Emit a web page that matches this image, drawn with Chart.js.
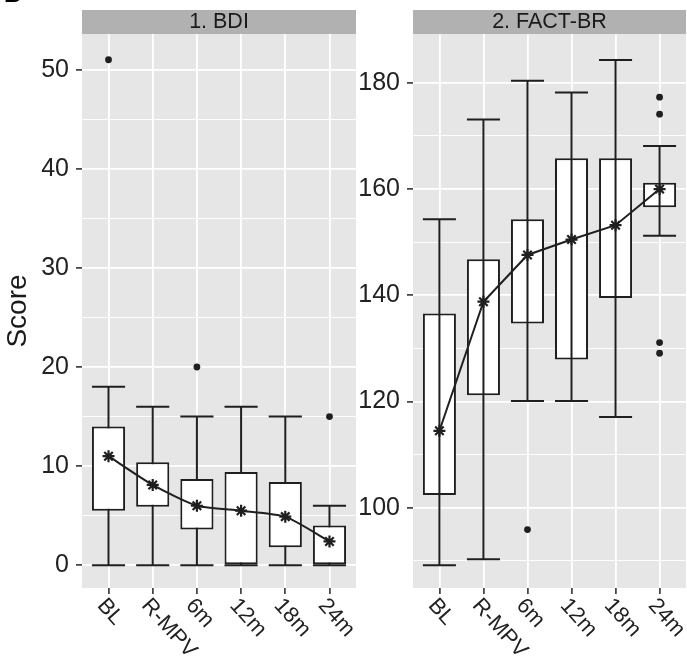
<!DOCTYPE html>
<html>
<head>
<meta charset="utf-8">
<script src="https://cdn.jsdelivr.net/npm/chart.js@4.4.1/dist/chart.umd.min.js"></script>
<style>
  html, body { margin: 0; padding: 0; background: #fff; }
  #wrap { position: relative; width: 687px; height: 662px; overflow: hidden; }
  .panel { position: absolute; top: 0; height: 662px; }
  #p1 { left: 0; width: 358px; }
  #p2 { left: 358px; width: 329px; }
</style>
</head>
<body>
<div id="wrap">
  <div class="panel" id="p1"><canvas id="c1"></canvas></div>
  <div class="panel" id="p2"><canvas id="c2"></canvas></div>
</div>
<script>
/* ── BDI / FACT-BR boxplots ── */

const categories = ['BL', 'R-MPV', '6m', '12m', '18m', '24m'];

// 1. BDI
const bdiMin  = [0, 0, 0, 0, 0, 0];
const bdiQ1   = [5.5, 5.9, 3.6, 0, 1.8, 0];
const bdiQ3   = [14, 10.4, 8.7, 9.4, 8.4, 4];
const bdiMax  = [18, 16, 15, 16, 15, 6];
const bdiMean = [11, 8.1, 6.0, 5.5, 4.9, 2.4];
const bdiOutX = [0, 2, 5];
const bdiOutY = [51, 20, 15];
const bdiMajor = [0, 10, 20, 30, 40, 50];
const bdiMinor = [5, 15, 25, 35, 45];

// 2. FACT-BR
const factMin  = [89.2, 90.3, 120.1, 120.1, 117.1, 151.2];
const factQ1   = [102.4, 121.2, 134.7, 127.9, 139.5, 156.6];
const factQ3   = [136.6, 146.8, 154.3, 165.8, 165.8, 161.2];
const factMax  = [154.3, 173.1, 180.4, 178.2, 184.3, 168.1];
const factMean = [114.5, 138.8, 147.6, 150.5, 153.2, 160];
const factOutX = [2, 5, 5, 5, 5];
const factOutY = [95.9, 177.3, 174.1, 131.1, 129.1];
const factMajor = [100, 120, 140, 160, 180];
const factMinor = [90, 110, 130, 150, 170];

const INK = '#1f1f1f';
const TEXT = '#222';
const PANEL_BG = '#e6e6e6';
const STRIP_BG = '#b1b1b1';
const FONT = "'Liberation Sans', Arial, Helvetica, sans-serif";
const LABEL_ANGLE = 48 * Math.PI / 180;

Chart.defaults.font.family = FONT;

function makePanel(canvasId, cfg) {
  const BOX = 2; // dataset index of the boxes

  const panelPlugin = {
    id: 'panelBg',
    beforeDraw(chart) {
      const { ctx, chartArea: a } = chart;
      ctx.save();
      ctx.fillStyle = PANEL_BG;
      ctx.fillRect(a.left, a.top, a.right - a.left, a.bottom - a.top);
      ctx.fillStyle = STRIP_BG;
      ctx.fillRect(a.left, 10, a.right - a.left, a.top - 10);
      ctx.fillStyle = '#1a1a1a';
      ctx.font = `21.5px ${FONT}`;
      ctx.textAlign = 'center';
      ctx.textBaseline = 'middle';
      ctx.fillText(cfg.title, (a.left + a.right) / 2, 22.5);
      ctx.restore();
    },
    afterDraw(chart) {
      const { ctx, chartArea: a, scales: { x } } = chart;
      ctx.save();
      ctx.fillStyle = TEXT;
      ctx.font = `22px ${FONT}`;
      ctx.textAlign = 'left';
      ctx.textBaseline = 'alphabetic';
      categories.forEach((c, i) => {
        const px = x.getPixelForValue(i);
        ctx.save();
        ctx.translate(px - 12, a.bottom + 18);
        ctx.rotate(LABEL_ANGLE);
        ctx.fillText(c, 0, 0);
        ctx.restore();
      });
      if (cfg.tag) {
        ctx.fillStyle = '#000';
        ctx.font = `bold 24px ${FONT}`;
        ctx.fillText(cfg.tag, 4, 1.5);
      }
      ctx.restore();
    }
  };

  // whiskers + caps, read through the chart's own scales
  const drawWhiskers = chart => {
    const { ctx, scales: { x, y } } = chart;
    const bars = chart.getDatasetMeta(BOX).data;
    ctx.save();
    ctx.strokeStyle = INK;
    ctx.lineWidth = 2;
    categories.forEach((c, i) => {
      const px = x.getPixelForValue(i);
      const half = bars[i].width / 2;
      const lo = y.getPixelForValue(cfg.min[i]);
      const hi = y.getPixelForValue(cfg.max[i]);
      ctx.beginPath();
      ctx.moveTo(px, lo); ctx.lineTo(px, hi);
      ctx.moveTo(px - half, lo); ctx.lineTo(px + half, lo);
      ctx.moveTo(px - half, hi); ctx.lineTo(px + half, hi);
      ctx.stroke();
    });
    ctx.restore();
  };

  const whiskerPlugin = {
    id: 'whiskers',
    beforeDatasetDraw(chart, args) {
      if (!cfg.whiskersOnTop && args.index === BOX) drawWhiskers(chart);
    },
    afterDatasetDraw(chart, args) {
      if (cfg.whiskersOnTop && args.index === BOX) drawWhiskers(chart);
    }
  };

  const allTicks = [...cfg.major, ...cfg.minor].sort((a, b) => a - b);
  const isMajor = v => cfg.major.includes(v);

  return new Chart(document.getElementById(canvasId), {
    type: 'bar',
    data: {
      datasets: [
        {
          type: 'line',
          data: categories.map((c, i) => ({ x: i, y: cfg.mean[i] })),
          borderColor: INK,
          borderWidth: 2,
          tension: cfg.tension,
          pointStyle: 'star',
          pointRadius: 6,
          pointBorderWidth: 2.2,
          pointBorderColor: INK,
          pointBackgroundColor: INK,
          fill: false,
        },
        {
          type: 'scatter',
          data: cfg.outX.map((v, i) => ({ x: v, y: cfg.outY[i] })),
          pointRadius: 3.4,
          pointBorderWidth: 0,
          pointBackgroundColor: INK,
          backgroundColor: INK,
        },
        {
          type: 'bar',
          data: categories.map((c, i) => ({ x: i, y: [cfg.q1[i], cfg.q3[i]] })),
          backgroundColor: '#fff',
          borderColor: INK,
          borderWidth: 2,
          borderSkipped: false,
          barPercentage: 0.75,
          categoryPercentage: 1,
        }
      ]
    },
    options: {
      responsive: true,
      maintainAspectRatio: false,
      animation: false,
      devicePixelRatio: 1,
      layout: {
        autoPadding: false,
        padding: { top: 34, right: cfg.padRight, left: 0, bottom: 0 }
      },
      plugins: { legend: { display: false }, tooltip: { enabled: false } },
      scales: {
        x: {
          type: 'linear',
          min: -0.6,
          max: 5.6,
          offset: false,
          afterBuildTicks: s => { s.ticks = categories.map((c, i) => ({ value: i })); },
          afterFit: s => { s.height = 74; },
          ticks: { display: false },
          border: { display: false },
          grid: {
            offset: false,
            color: '#fff',
            lineWidth: 1.8,
            tickColor: '#333',
            tickWidth: 1.6,
            tickLength: 6,
          }
        },
        y: {
          min: cfg.yMin,
          max: cfg.yMax,
          afterBuildTicks: s => { s.ticks = allTicks.map(v => ({ value: v })); },
          afterFit: s => { s.width = cfg.axisWidth; },
          border: { display: false },
          ticks: {
            color: TEXT,
            padding: 7,
            font: { size: 25 },
            callback: v => isMajor(v) ? String(v) : '',
          },
          grid: {
            color: '#fff',
            lineWidth: c => isMajor(c.tick.value) ? 1.8 : 0.9,
            tickColor: c => isMajor(c.tick.value) ? '#333' : 'rgba(0,0,0,0)',
            tickWidth: 1.6,
            tickLength: 6,
          },
          title: {
            display: !!cfg.yTitle,
            text: cfg.yTitle || '',
            color: '#1a1a1a',
            font: { size: 28, lineHeight: 1.2 },
            padding: { top: 1, bottom: 0 },
          }
        }
      }
    },
    plugins: [panelPlugin, whiskerPlugin]
  });
}

makePanel('c1', {
  title: '1. BDI', tag: 'B', yTitle: 'Score',
  min: bdiMin, q1: bdiQ1, q3: bdiQ3, max: bdiMax, mean: bdiMean,
  outX: bdiOutX, outY: bdiOutY, major: bdiMajor, minor: bdiMinor,
  yMin: -2.3, yMax: 53.6, axisWidth: 82, padRight: 2,
  whiskersOnTop: false, tension: 0.2,
});

makePanel('c2', {
  title: '2. FACT-BR',
  min: factMin, q1: factQ1, q3: factQ3, max: factMax, mean: factMean,
  outX: factOutX, outY: factOutY, major: factMajor, minor: factMinor,
  yMin: 84.9, yMax: 189.2, axisWidth: 55, padRight: 1,
  whiskersOnTop: true, tension: 0,
});
</script>
</body>
</html>
